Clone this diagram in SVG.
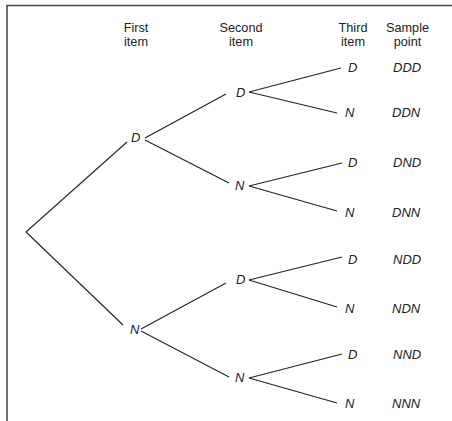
<svg xmlns="http://www.w3.org/2000/svg" width="452" height="421" viewBox="0 0 452 421">
<style>
.h{font-family:"Liberation Sans",Arial,sans-serif;font-size:12.7px;fill:#222;text-anchor:middle}
.l{font-family:"Liberation Sans",Arial,sans-serif;font-size:13px;font-style:italic;fill:#222}
.c line{stroke:#222;stroke-width:1.1}
.frame{stroke:#444;stroke-width:1.5;fill:none}
</style>
<rect width="452" height="421" fill="#fff"/>
<path class="frame" d="M7,421 V5.5 H452"/>
<g id="headers">
<text class="h" x="136" y="32">First</text><text class="h" x="136" y="46">item</text>
<text class="h" x="241" y="32">Second</text><text class="h" x="241" y="46">item</text>
<text class="h" x="353" y="32">Third</text><text class="h" x="353" y="46">item</text>
<text class="h" x="407.5" y="32">Sample</text><text class="h" x="407.5" y="46">point</text>
</g>
<g class="c" id="connectors">
<line x1="26" y1="232" x2="127" y2="142"/>
<line x1="26" y1="232" x2="123" y2="325"/>
<line x1="145" y1="138" x2="226" y2="94"/>
<line x1="145" y1="140" x2="229" y2="183"/>
<line x1="141" y1="329" x2="226" y2="283"/>
<line x1="141" y1="331" x2="229" y2="377"/>
<line x1="249" y1="92" x2="341" y2="68"/>
<line x1="249" y1="92" x2="337" y2="113"/>
<line x1="249" y1="186" x2="342" y2="163"/>
<line x1="249" y1="186" x2="337" y2="211"/>
<line x1="249" y1="280" x2="342" y2="257"/>
<line x1="249" y1="280" x2="337" y2="307"/>
<line x1="249" y1="378" x2="342" y2="354"/>
<line x1="249" y1="378" x2="337" y2="403"/>
</g>
<g id="n1D"><text class="l" x="131" y="142">D</text></g>
<g id="n1N"><text class="l" x="130" y="334">N</text></g>
<g id="n2D1"><text class="l" x="236" y="97">D</text></g>
<g id="n2N1"><text class="l" x="235" y="190">N</text></g>
<g id="n2D2"><text class="l" x="236" y="284">D</text></g>
<g id="n2N2"><text class="l" x="235" y="382">N</text></g>
<g id="n3_1"><text class="l" x="348" y="72">D</text><text class="l" x="393" y="72">DDD</text></g>
<g id="n3_2"><text class="l" x="345" y="117">N</text><text class="l" x="392" y="117">DDN</text></g>
<g id="n3_3"><text class="l" x="348" y="167">D</text><text class="l" x="393" y="167">DND</text></g>
<g id="n3_4"><text class="l" x="345" y="217">N</text><text class="l" x="392" y="217">DNN</text></g>
<g id="n3_5"><text class="l" x="348" y="264">D</text><text class="l" x="393" y="264">NDD</text></g>
<g id="n3_6"><text class="l" x="345" y="313">N</text><text class="l" x="392" y="313">NDN</text></g>
<g id="n3_7"><text class="l" x="348" y="359">D</text><text class="l" x="393" y="359">NND</text></g>
<g id="n3_8"><text class="l" x="345" y="408">N</text><text class="l" x="392" y="408">NNN</text></g>
</svg>
